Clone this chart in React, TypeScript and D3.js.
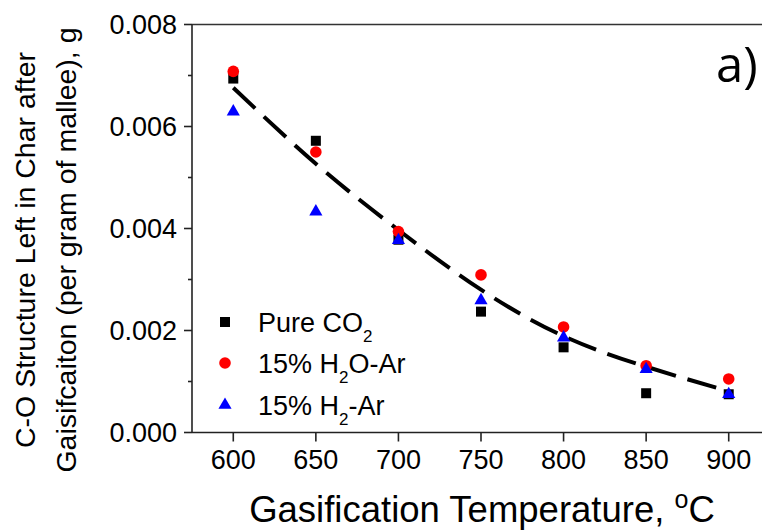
import React from "react";
import * as d3 from "d3";

const temperatures = [600, 650, 700, 750, 800, 850, 900];
const pureCO2 = [0.00694, 0.00572, 0.00378, 0.00237, 0.00167, 0.00077, 0.00075];
const h2oAr = [0.00708, 0.0055, 0.00394, 0.00309, 0.00207, 0.00131, 0.00105];
const h2Ar = [0.00629, 0.00433, 0.00377, 0.00259, 0.00186, 0.00124, 0.00075];
const fitLine = [0.00676, 0.00527, 0.00397, 0.0028, 0.00189, 0.00129, 0.00081];
const xTicks = [600, 650, 700, 750, 800, 850, 900];
const yTicks = [0, 0.002, 0.004, 0.006, 0.008];
const yMinorTicks = [0.001, 0.003, 0.005, 0.007];

const W = 762;
const H = 532;
const FONT = "'Liberation Sans', Arial, sans-serif";

export default function App() {
  const x = d3.scaleLinear().domain([575, 925]).range([192, 770]);
  const y = d3.scaleLinear().domain([0, 0.008]).range([432.5, 24.5]);

  const line = d3
    .line<number>()
    .x((_, i) => x(temperatures[i]))
    .y((d) => y(d))
    .curve(d3.curveNatural);

  const tri = d3.symbol().type(d3.symbolTriangle).size(75)() as string;

  const legendX = 225;
  const legendRows = [322, 363, 405];
  const textX = 258;

  return (
    <svg
      width={W}
      height={H}
      style={{ position: "absolute", left: 0, top: 0, background: "#fff" }}
      fontFamily={FONT}
    >
      <rect x={0} y={0} width={W} height={H} fill="#fff" />
      {/* axes */}
      <line x1={x(575)} x2={x(925)} y1={y(0.008)} y2={y(0.008)} stroke="#333" strokeWidth={1.6} />
      <line x1={x(575)} x2={x(925)} y1={y(0)} y2={y(0)} stroke="#222" strokeWidth={1.6} />
      <line x1={x(575)} x2={x(575)} y1={y(0)} y2={y(0.008)} stroke="#222" strokeWidth={1.6} />
      {yTicks.map((t) => (
        <g key={"y" + t}>
          <line x1={x(575) - 8} x2={x(575)} y1={y(t)} y2={y(t)} stroke="#222" strokeWidth={1.6} />
          <text x={177} y={y(t) + 9.5} textAnchor="end" fontSize={27} fill="#000">
            {t.toFixed(3)}
          </text>
        </g>
      ))}
      {yMinorTicks.map((t) => (
        <line key={"ym" + t} x1={x(575) - 4} x2={x(575)} y1={y(t)} y2={y(t)} stroke="#222" strokeWidth={1.6} />
      ))}
      {xTicks.map((t) => (
        <g key={"x" + t}>
          <line x1={x(t)} x2={x(t)} y1={y(0)} y2={y(0) + 9} stroke="#222" strokeWidth={1.6} />
          <text x={x(t)} y={468.5} textAnchor="middle" fontSize={27} fill="#000">
            {t}
          </text>
        </g>
      ))}
      {/* axis titles */}
      <text x={482} y={522} textAnchor="middle" fontSize={36.5} fill="#000">
        Gasification Temperature, <tspan fontSize={25} dy={-14}>o</tspan>
        <tspan dy={14}>C</tspan>
      </text>
      <g transform="translate(35,250) rotate(-90)">
        <text x={0} y={0} textAnchor="middle" fontSize={28.5} fill="#000">
          C-O Structure Left in Char after
        </text>
        <text x={0} y={41} textAnchor="middle" fontSize={28.5} fill="#000">
          Gaisifcaiton (per gram of mallee), g
        </text>
      </g>
      <text x={716} y={82} fontSize={49} fontFamily="'Open Sans', sans-serif" fill="#000">
        a)
      </text>
      {/* fit line */}
      <path
        d={line(fitLine) as string}
        fill="none"
        stroke="#000"
        strokeWidth={4}
        strokeDasharray="30 12"
      />
      {/* data */}
      {pureCO2.map((v, i) => (
        <rect key={"s" + i} x={x(temperatures[i]) - 5} y={y(v) - 5} width={10} height={10} fill="#000" />
      ))}
      {h2oAr.map((v, i) => (
        <circle key={"c" + i} cx={x(temperatures[i])} cy={y(v)} r={5.8} fill="#ff0000" />
      ))}
      {h2Ar.map((v, i) => (
        <path key={"t" + i} d={tri} transform={`translate(${x(temperatures[i])},${y(v)})`} fill="#0000ff" />
      ))}
      {/* legend */}
      <rect x={legendX - 5} y={legendRows[0] - 5} width={10} height={10} fill="#000" />
      <circle cx={legendX} cy={legendRows[1]} r={5.8} fill="#ff0000" />
      <path d={tri} transform={`translate(${legendX},${legendRows[2]})`} fill="#0000ff" />
      <text x={textX} y={legendRows[0] + 9.5} fontSize={27} fill="#000">
        Pure CO<tspan fontSize={17} dy={10}>2</tspan>
      </text>
      <text x={textX} y={legendRows[1] + 9.5} fontSize={27} fill="#000">
        15% H<tspan fontSize={17} dy={10}>2</tspan>
        <tspan dy={-10}>O-Ar</tspan>
      </text>
      <text x={textX} y={legendRows[2] + 9.5} fontSize={27} fill="#000">
        15% H<tspan fontSize={17} dy={10}>2</tspan>
        <tspan dy={-10}>-Ar</tspan>
      </text>
    </svg>
  );
}
